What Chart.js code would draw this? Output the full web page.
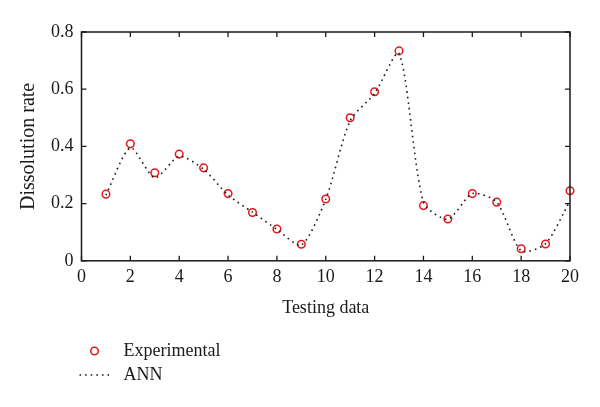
<!DOCTYPE html>
<html>
<head>
<meta charset="utf-8">
<script src="https://cdn.jsdelivr.net/npm/chart.js@4/dist/chart.umd.min.js"></script>
<style>
  html, body { margin: 0; padding: 0; background: #fff; }
  #wrap { width: 600px; height: 407px; }
</style>
</head>
<body>
<div id="wrap"><canvas id="chart"></canvas></div>
<script>
// DATA
const testingData = [1, 2, 3, 4, 5, 6, 7, 8, 9, 10, 11, 12, 13, 14, 15, 16, 17, 18, 19, 20];
const experimental = [0.233, 0.409, 0.308, 0.373, 0.325, 0.235, 0.169, 0.111, 0.058, 0.216,
                      0.500, 0.591, 0.734, 0.193, 0.146, 0.235, 0.205, 0.042, 0.059, 0.245];
const ann = [0.230, 0.395, 0.290, 0.365, 0.320, 0.230, 0.170, 0.110, 0.055, 0.215,
             0.490, 0.585, 0.725, 0.205, 0.145, 0.235, 0.205, 0.035, 0.060, 0.210];

const serif = 'Liberation Serif';
const ink = '#1a1a1a';
const red = '#e3161d';

// box with inward ticks on all four sides
const frame = {
    id: 'frame',
    afterDraw(chart) {
        const { ctx, chartArea: a, scales } = chart;
        ctx.save();
        ctx.strokeStyle = ink;
        ctx.lineWidth = 1.5;
        ctx.strokeRect(a.left, a.top, a.right - a.left, a.bottom - a.top);
        ctx.lineWidth = 1.3;
        ctx.beginPath();
        scales.x.ticks.forEach(t => {
            const px = scales.x.getPixelForValue(t.value);
            ctx.moveTo(px, a.bottom); ctx.lineTo(px, a.bottom - 5);
            ctx.moveTo(px, a.top); ctx.lineTo(px, a.top + 5);
        });
        scales.y.ticks.forEach(t => {
            const py = scales.y.getPixelForValue(t.value);
            ctx.moveTo(a.left, py); ctx.lineTo(a.left + 5, py);
            ctx.moveTo(a.right, py); ctx.lineTo(a.right - 5, py);
        });
        ctx.stroke();

        // legend below the plot, stacked
        const lx = a.left + 13, tx = a.left + 42;
        ctx.font = '18px "' + serif + '"';
        ctx.fillStyle = ink;
        ctx.textBaseline = 'middle';
        ctx.strokeStyle = red;
        ctx.lineWidth = 1.5;
        ctx.beginPath();
        ctx.arc(lx, 351, 3.8, 0, Math.PI * 2);
        ctx.stroke();
        ctx.fillText('Experimental', tx, 351);
        ctx.strokeStyle = ink;
        ctx.lineWidth = 1.6;
        ctx.setLineDash([1.6, 4]);
        ctx.beginPath();
        ctx.moveTo(a.left - 2, 375); ctx.lineTo(a.left + 28, 375);
        ctx.stroke();
        ctx.setLineDash([]);
        ctx.fillText('ANN', tx, 375);
        ctx.restore();
    }
};

const ctx = document.getElementById('chart').getContext('2d');

new Chart(ctx, {
    type: 'line',
    data: {
        labels: testingData,
        datasets: [{
            label: 'ANN',
            data: testingData.map((x, i) => ({ x: x, y: ann[i] })),
            borderColor: ink,
            borderWidth: 1.6,
            borderDash: [1.6, 4],
            tension: 0.25,
            pointRadius: 0,
            fill: false,
            clip: false
        }, {
            label: 'Experimental',
            data: testingData.map((x, i) => ({ x: x, y: experimental[i] })),
            showLine: false,
            pointRadius: 3.8,
            pointBorderWidth: 1.5,
            pointBorderColor: red,
            pointBackgroundColor: 'rgba(0,0,0,0)',
            clip: false
        }]
    },
    options: {
        responsive: true,
        maintainAspectRatio: false,
        animation: false,
        layout: {
            padding: { left: 14, top: 32, right: 30, bottom: 88 }
        },
        plugins: {
            legend: { display: false },
            tooltip: { enabled: false }
        },
        scales: {
            x: {
                type: 'linear',
                min: 0,
                max: 20,
                ticks: {
                    stepSize: 2,
                    padding: 6,
                    color: ink,
                    font: { family: serif, size: 18, lineHeight: 1.2 }
                },
                grid: { display: false, drawTicks: false },
                border: { display: false },
                title: {
                    display: true,
                    text: 'Testing data',
                    color: ink,
                    padding: { top: 3, bottom: 0 },
                    font: { family: serif, size: 18, lineHeight: 1.2 }
                }
            },
            y: {
                min: 0,
                max: 0.8,
                ticks: {
                    stepSize: 0.2,
                    padding: 8,
                    color: ink,
                    font: { family: serif, size: 18, lineHeight: 1.2 }
                },
                grid: { display: false, drawTicks: false },
                border: { display: false },
                title: {
                    display: true,
                    text: 'Dissolution rate',
                    color: ink,
                    padding: { top: 3, bottom: 2 },
                    font: { family: serif, size: 20, lineHeight: 1.2 }
                }
            }
        }
    },
    plugins: [frame]
});
</script>
</body>
</html>
